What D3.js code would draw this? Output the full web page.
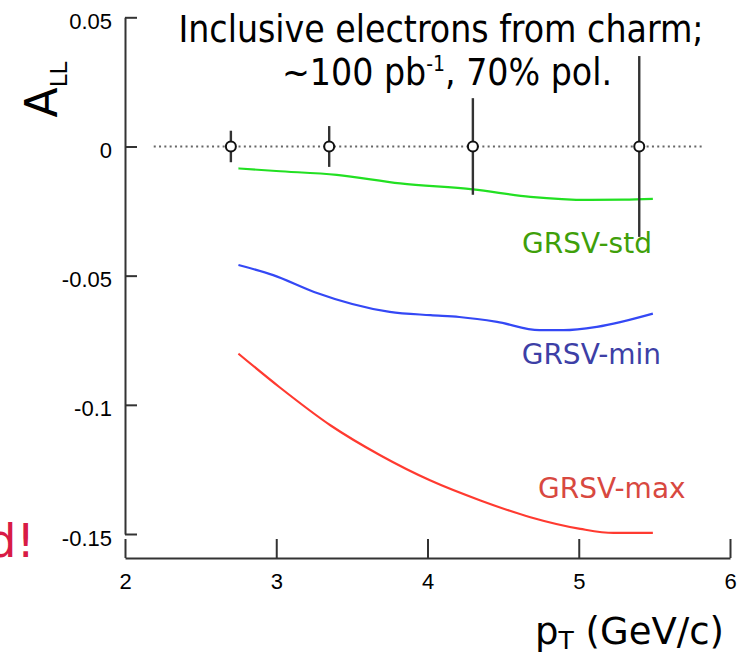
<!DOCTYPE html>
<html>
<head>
<meta charset="utf-8">
<script src="https://cdn.jsdelivr.net/npm/d3@7"></script>
<style>
  html, body { margin: 0; padding: 0; background: #fff; }
  svg { display: block; }
</style>
</head>
<body>
<svg id="chart" width="737" height="656"></svg>
<script>
// ---------- data ----------
const xTicks = [2, 3, 4, 5, 6];
const yTicks = [0.05, 0, -0.05, -0.1, -0.15];

// projected data points (pT, A_LL, error)
const pointX   = [2.70, 3.35, 4.30, 5.40];
const pointY   = [0, 0, 0, 0];
const pointErr = [0.0061, 0.0079, 0.0187, 0.035];

// theory curves
const stdX = [2.75, 3.0, 3.4, 3.82, 4.30, 4.68, 5.07, 5.30, 5.49];
const stdY = [-0.0085, -0.0095, -0.0110, -0.0143, -0.0166, -0.0195, -0.0207, -0.0206, -0.0203];

const minX = [2.75, 2.98, 3.25, 3.75, 4.02, 4.21, 4.46, 4.74, 4.90, 5.12, 5.49];
const minY = [-0.0459, -0.0498, -0.0563, -0.0640, -0.0653, -0.0660, -0.0679, -0.0711, -0.0711, -0.0698, -0.0647];

const maxX = [2.75, 3.02, 3.36, 3.69, 4.02, 4.35, 4.68, 5.01, 5.23, 5.49];
const maxY = [-0.0802, -0.0931, -0.1080, -0.1196, -0.1293, -0.1370, -0.1435, -0.1480, -0.1496, -0.1496];

const curveNames  = ["GRSV-std", "GRSV-min", "GRSV-max"];
const labelX      = [4.625, 4.623, 4.731];
const labelY      = [-0.0412, -0.0843, -0.1362];

const zeroLineX = [2.19, 5.83];

// ---------- layout ----------
const svg = d3.select("#chart");
const x = d3.scaleLinear().domain([2, 6]).range([125, 730]);
const y = d3.scaleLinear().domain([-0.15, 0.05]).range([534, 17.3]);

const curveColors = ["#22e022", "#3448f5", "#ff3a30"];
const labelColors = ["#3f9f0a", "#3d3fa6", "#d84840"];
const FONT = "'DejaVu Sans', Verdana, sans-serif";
const TICKFONT = "'Liberation Sans', Arial, Helvetica, sans-serif";

// ---------- axes ----------
const yAxis = d3.axisLeft(y)
  .tickValues(yTicks)
  .tickSizeInner(-12)
  .tickSizeOuter(0)
  .tickPadding(13)
  .tickFormat(d => d === 0 ? "0" : String(d));
const gy = svg.append("g").attr("transform", "translate(125,0)").call(yAxis);

const xAxis = d3.axisBottom(x)
  .tickValues(xTicks)
  .tickSizeInner(-19)
  .tickSizeOuter(0)
  .tickPadding(15.7)
  .tickFormat(d3.format("d"));
const gx = svg.append("g").attr("transform", "translate(0,558)").call(xAxis);

[gx, gy].forEach(g => {
  g.attr("font-family", TICKFONT).attr("font-size", 22);
  g.select(".domain").attr("stroke", "#333").attr("stroke-width", 2);
  g.selectAll(".tick line").attr("stroke", "#333").attr("stroke-width", 2);
  g.selectAll(".tick text").attr("fill", "#000")
    .style("font-family", TICKFONT).style("font-size", "22px");
});
gy.selectAll(".tick text").attr("dy", "0.5em");

// ---------- zero reference line ----------
svg.append("line")
  .attr("x1", x(zeroLineX[0])).attr("x2", x(zeroLineX[1]))
  .attr("y1", y(0)).attr("y2", y(0))
  .attr("stroke", "#666").attr("stroke-width", 2)
  .attr("stroke-dasharray", "2,3.3");

// ---------- curves ----------
const line = d3.line().x(d => x(d[0])).y(d => y(d[1])).curve(d3.curveMonotoneX);
const curves = [
  d3.zip(stdX, stdY),
  d3.zip(minX, minY),
  d3.zip(maxX, maxY)
];
curves.forEach((c, i) => {
  svg.append("path").datum(c)
    .attr("d", line)
    .attr("fill", "none")
    .attr("stroke", curveColors[i])
    .attr("stroke-width", 2.2);
});

// ---------- points with error bars ----------
const pts = pointX.map((px, i) => ({ x: px, y: pointY[i], e: pointErr[i] }));
svg.selectAll("line.err").data(pts).enter().append("line")
  .attr("class", "err")
  .attr("x1", d => x(d.x)).attr("x2", d => x(d.x))
  .attr("y1", d => y(d.y + d.e)).attr("y2", d => y(d.y - d.e))
  .attr("stroke", "#333").attr("stroke-width", 2.4);
svg.selectAll("circle.pt").data(pts).enter().append("circle")
  .attr("class", "pt")
  .attr("cx", d => x(d.x)).attr("cy", d => y(d.y))
  .attr("r", 5)
  .attr("fill", "#fff").attr("stroke", "#111").attr("stroke-width", 2);

// ---------- curve labels ----------
curveNames.forEach((n, i) => {
  svg.append("text")
    .attr("x", x(labelX[i])).attr("y", y(labelY[i]))
    .attr("fill", labelColors[i])
    .style("font-family", FONT).style("font-size", "28px")
    .text(n);
});

// ---------- title ----------
const TFONT = "'DejaVu Sans Condensed', 'DejaVu Sans', sans-serif";
svg.append("text")
  .attr("x", 441).attr("y", 41.7)
  .attr("text-anchor", "middle")
  .style("font-family", TFONT).style("font-size", "37px")
  .attr("fill", "#000")
  .text("Inclusive electrons from charm;");
const t2 = svg.append("text")
  .attr("x", 447).attr("y", 85)
  .attr("text-anchor", "middle")
  .style("font-family", TFONT).style("font-size", "37px")
  .attr("fill", "#000");
t2.append("tspan").text("~100 pb");
t2.append("tspan").attr("dy", -14).style("font-size", "21px").text("-1");
t2.append("tspan").attr("dy", 14).text(", 70% pol.");

// ---------- axis titles ----------
const yl = svg.append("text")
  .attr("transform", "translate(57,89.5) rotate(-90)")
  .attr("text-anchor", "middle")
  .style("font-family", FONT).style("font-size", "44px")
  .attr("fill", "#000");
yl.append("tspan").text("A");
yl.append("tspan").attr("dy", 10).style("font-size", "23px").text("LL");

const xl = svg.append("text")
  .attr("x", 724).attr("y", 644)
  .attr("text-anchor", "end")
  .style("font-family", FONT).style("font-size", "37px")
  .attr("fill", "#000");
xl.append("tspan").text("p");
xl.append("tspan").attr("dy", 5).style("font-size", "25px").text("T");
xl.append("tspan").attr("dy", -5).text(" (GeV/c)");

// ---------- cut-off slide text ----------
svg.append("text")
  .attr("x", 35).attr("y", 557)
  .attr("text-anchor", "end")
  .attr("fill", "#d81b45")
  .style("font-family", FONT).style("font-size", "46px")
  .text("d!");
</script>
</body>
</html>
